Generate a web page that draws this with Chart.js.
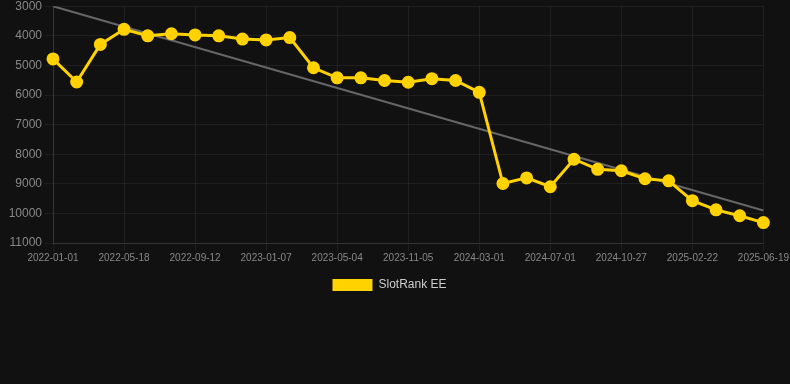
<!DOCTYPE html>
<html>
<head>
<meta charset="utf-8">
<script src="https://cdn.jsdelivr.net/npm/chart.js@4/dist/chart.umd.min.js"></script>
<style>
  html, body { margin: 0; padding: 0; background: #111111; overflow: hidden; }
  #wrap { width: 790px; height: 305px; position: relative; margin-top: -4px; }
</style>
</head>
<body>
<div id="wrap"><canvas id="chart-goes-here"></canvas></div>
<script>
// categories (the axis skips to every third one by itself)
const dates = [
    '2022-01-01', '2022-02-15', '2022-04-01', '2022-05-18', '2022-06-26', '2022-08-04',
    '2022-09-12', '2022-10-20', '2022-11-29', '2023-01-07', '2023-02-14', '2023-03-27',
    '2023-05-04', '2023-07-08', '2023-09-06', '2023-11-05', '2023-12-15', '2024-01-22',
    '2024-03-01', '2024-04-10', '2024-05-21', '2024-07-01', '2024-08-09', '2024-09-18',
    '2024-10-27', '2024-12-05', '2025-01-13', '2025-02-22', '2025-04-01', '2025-05-10',
    '2025-06-19',
];

// rank values
const rankEE = [
    4780, 5560, 4290, 3780, 4000, 3930,
    3970, 4000, 4110, 4140, 4060, 5080,
    5420, 5420, 5510, 5570, 5450, 5510,
    5910, 8990, 8800, 9100, 8170, 8510,
    8560, 8830, 8900, 9570, 9880, 10080,
    10310,
];

// trend line, first and last category
const trendEnds = [3000, 9900];

const yTicks = [3000, 4000, 5000, 6000, 7000, 8000, 9000, 10000, 11000];

const gridColor = 'rgba(255,255,255,0.06)';

const data = {
    labels: dates,
    datasets: [{
        label: 'SlotRank EE',
        data: rankEE,
        borderColor: '#ffd200',
        backgroundColor: '#ffd200',
        borderWidth: 3,
        pointRadius: 5,
        pointHoverRadius: 6,
        tension: 0,
        order: 1,
    }, {
        label: 'trend',
        data: [
            { x: dates[0], y: trendEnds[0] },
            { x: dates[dates.length - 1], y: trendEnds[1] },
        ],
        borderColor: '#666666',
        backgroundColor: '#666666',
        borderWidth: 2,
        pointRadius: 0,
        order: 2,
    }]
};

const config = {
    type: 'line',
    data: data,
    options: {
        responsive: true,
        maintainAspectRatio: false,
        animation: false,
        layout: { padding: { right: 11 } },
        scales: {
            x: {
                grid: { color: gridColor },
                border: { color: 'rgba(255,255,255,0.1)' },
                ticks: {
                    color: '#888888',
                    font: { size: 10 },
                    maxRotation: 0,
                    padding: 1,
                },
            },
            y: {
                reverse: true,
                min: yTicks[0],
                max: yTicks[yTicks.length - 1],
                grid: { color: gridColor },
                border: { color: 'rgba(255,255,255,0.1)' },
                afterBuildTicks: (axis) => { axis.ticks = yTicks.map(v => ({ value: v })); },
                afterFit: (axis) => { axis.width = 53; },
                ticks: {
                    color: '#888888',
                    font: { size: 12 },
                    callback: (v) => String(v),
                },
            },
        },
        plugins: {
            legend: {
                position: 'bottom',
                labels: {
                    color: '#cccccc',
                    font: { size: 12 },
                    padding: 14,
                    generateLabels: (chart) => Chart.defaults.plugins.legend.labels
                        .generateLabels(chart)
                        .filter(item => item.datasetIndex === 0)
                        .map(item => ({ ...item, lineWidth: 0 })),
                },
            },
            tooltip: { enabled: false },
        },
    },
};

const myChart = new Chart(document.getElementById('chart-goes-here'), config);
</script>
</body>
</html>
